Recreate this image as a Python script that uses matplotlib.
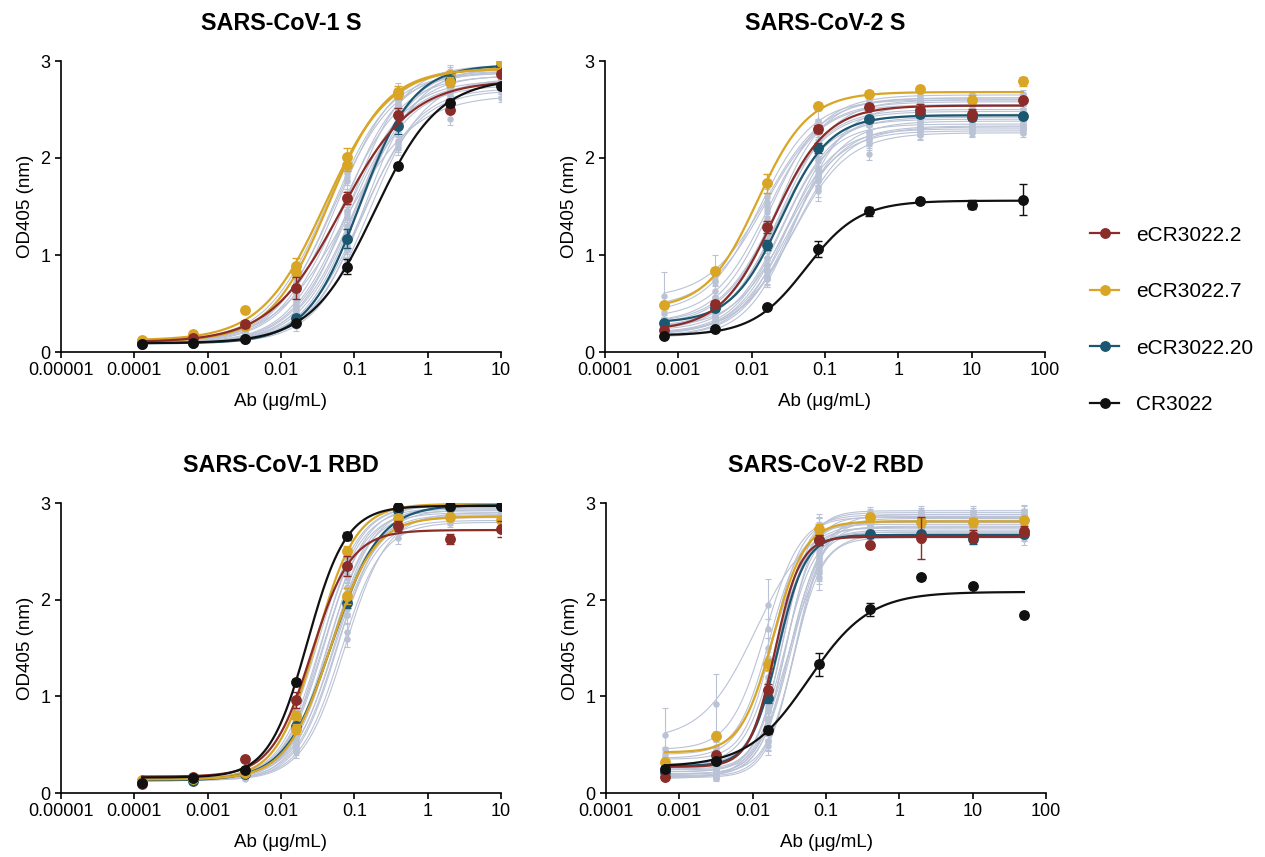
import numpy as np
import matplotlib
matplotlib.use("Agg")
import matplotlib.pyplot as plt
from matplotlib.lines import Line2D

plt.rcParams['font.family'] = ['Liberation Sans', 'DejaVu Sans']

# ---------------- data ----------------
conc_cov1 = [0.000128, 0.00064, 0.0032, 0.016, 0.08, 0.4, 2, 10]
conc_cov2 = [0.00064, 0.0032, 0.016, 0.08, 0.4, 2, 10, 50]

series_names = ["eCR3022.2", "eCR3022.7", "eCR3022.20", "CR3022"]
series_colors = ["#8b2c28", "#d9a524", "#1b5770", "#111111"]
gray_color = "#bac2d6"

titles = ["SARS-CoV-1 S", "SARS-CoV-2 S", "SARS-CoV-1 RBD", "SARS-CoV-2 RBD"]
xtick_vals_cov1 = [1e-5, 1e-4, 1e-3, 1e-2, 1e-1, 1, 10]
xtick_labels_cov1 = ["0.00001", "0.0001", "0.001", "0.01", "0.1", "1", "10"]
xtick_vals_cov2 = [1e-4, 1e-3, 1e-2, 1e-1, 1, 10, 100]
xtick_labels_cov2 = ["0.0001", "0.001", "0.01", "0.1", "1", "10", "100"]
ytick_vals = [0, 1, 2, 3]

# fitted 4PL parameters: (bottom, top, EC50, hill)
# ---- SARS-CoV-1 S ----
s1_red_pts = [0.08, 0.14, 0.29, 0.66, 1.59, 2.44, 2.50, 2.87]
s1_red_err = [0.01, 0.01, 0.03, 0.11, 0.06, 0.08, 0.03, 0.02]
s1_red_fit = (0.10, 2.80, 0.065, 0.9)
s1_yel_pts = [0.12, 0.19, 0.43, 0.89, 2.01, 2.68, 2.78, 2.99]
s1_yel_err = [0.01, 0.01, 0.02, 0.08, 0.09, 0.06, 0.05, 0.02]
s1_yel_fit = (0.12, 2.93, 0.040, 1.0)
s1_yel2_pts = [0.11, 0.15, 0.27, 0.82, 1.93, 2.66, 2.86, 2.92]
s1_yel2_err = [0.01, 0.01, 0.02, 0.05, 0.06, 0.05, 0.04, 0.02]
s1_yel2_fit = (0.11, 2.92, 0.044, 1.1)
s1_teal_pts = [0.09, 0.09, 0.13, 0.35, 1.17, 2.33, 2.80, 2.95]
s1_teal_err = [0.01, 0.01, 0.01, 0.03, 0.10, 0.08, 0.05, 0.03]
s1_teal_fit = (0.09, 2.96, 0.12, 1.2)
s1_blk_pts = [0.08, 0.09, 0.13, 0.30, 0.88, 1.92, 2.57, 2.74]
s1_blk_err = [0.01, 0.01, 0.01, 0.02, 0.08, 0.03, 0.04, 0.03]
s1_blk_fit = (0.09, 2.82, 0.19, 1.0)
s1_gray_fit = [
    (0.11, 2.92, 0.042, 1.05), (0.10, 2.88, 0.050, 1.1), (0.10, 2.95, 0.058, 1.1),
    (0.09, 2.85, 0.065, 1.05), (0.10, 2.90, 0.072, 1.15), (0.09, 2.80, 0.080, 1.1),
    (0.10, 2.96, 0.088, 1.2), (0.09, 2.75, 0.095, 1.1), (0.10, 2.90, 0.105, 1.15),
    (0.09, 2.85, 0.115, 1.2), (0.10, 2.70, 0.125, 1.1), (0.09, 2.65, 0.075, 0.9),
    (0.10, 2.93, 0.140, 1.2), (0.09, 2.82, 0.160, 1.15), (0.10, 2.88, 0.052, 1.05),
    (0.09, 2.78, 0.085, 1.1), (0.10, 2.92, 0.110, 1.2), (0.09, 2.72, 0.130, 1.15)]
s1_gray_pts = [
    [0.11, 0.15, 0.28, 0.84, 1.95, 2.70, 2.85, 2.93],
    [0.10, 0.12, 0.23, 0.70, 1.85, 2.60, 2.84, 2.88],
    [0.10, 0.12, 0.21, 0.66, 1.76, 2.63, 2.90, 2.95],
    [0.09, 0.11, 0.20, 0.61, 1.60, 2.50, 2.76, 2.85],
    [0.10, 0.11, 0.18, 0.52, 1.58, 2.55, 2.83, 2.90],
    [0.09, 0.10, 0.17, 0.48, 1.45, 2.40, 2.70, 2.80],
    [0.10, 0.11, 0.15, 0.43, 1.45, 2.55, 2.88, 2.95],
    [0.09, 0.10, 0.15, 0.42, 1.30, 2.30, 2.64, 2.73],
    [0.10, 0.11, 0.15, 0.39, 1.28, 2.40, 2.80, 2.89],
    [0.09, 0.10, 0.13, 0.33, 1.17, 2.34, 2.75, 2.84],
    [0.10, 0.11, 0.15, 0.34, 1.09, 2.13, 2.56, 2.68],
    [0.10, 0.12, 0.23, 0.60, 1.42, 2.18, 2.40, 2.62],
    [0.10, 0.10, 0.13, 0.30, 1.06, 2.30, 2.82, 2.91],
    [0.09, 0.10, 0.12, 0.27, 0.95, 2.10, 2.66, 2.79],
    [0.10, 0.13, 0.24, 0.72, 1.80, 2.58, 2.82, 2.87],
    [0.09, 0.10, 0.16, 0.46, 1.39, 2.37, 2.70, 2.77],
    [0.10, 0.11, 0.14, 0.35, 1.24, 2.43, 2.84, 2.91],
    [0.09, 0.10, 0.13, 0.31, 1.05, 2.15, 2.61, 2.70]]
s1_gray_err = [0.01, 0.01, 0.02, 0.05, 0.08, 0.07, 0.06, 0.04]
s1_gray_err_first = [0.01, 0.01, 0.02, 0.05, 0.08, 0.07, 0.06, 0.04]

# ---- SARS-CoV-2 S ----
s2_red_pts = [0.23, 0.50, 1.29, 2.30, 2.53, 2.50, 2.45, 2.60]
s2_red_err = [0.02, 0.03, 0.06, 0.04, 0.03, 0.06, 0.06, 0.02]
s2_red_fit = (0.22, 2.54, 0.020, 1.2)
s2_yel_pts = [0.48, 0.83, 1.74, 2.54, 2.66, 2.71, 2.60, 2.79]
s2_yel_err = [0.02, 0.03, 0.10, 0.03, 0.03, 0.03, 0.05, 0.05]
s2_yel_fit = (0.44, 2.68, 0.012, 1.25)
s2_teal_pts = [0.30, 0.45, 1.10, 2.10, 2.40, 2.45, 2.42, 2.43]
s2_teal_err = [0.02, 0.03, 0.05, 0.05, 0.03, 0.03, 0.03, 0.03]
s2_teal_fit = (0.30, 2.44, 0.025, 1.3)
s2_blk_pts = [0.17, 0.24, 0.46, 1.06, 1.45, 1.56, 1.52, 1.57]
s2_blk_err = [0.01, 0.01, 0.01, 0.08, 0.05, 0.02, 0.05, 0.16]
s2_blk_fit = (0.17, 1.56, 0.055, 1.2)
s2_gray_fit = [
    (0.55, 2.62, 0.016, 1.1), (0.40, 2.60, 0.013, 1.2), (0.35, 2.55, 0.016, 1.2),
    (0.30, 2.65, 0.018, 1.2), (0.28, 2.48, 0.020, 1.2), (0.25, 2.40, 0.022, 1.25),
    (0.22, 2.60, 0.024, 1.2), (0.20, 2.35, 0.026, 1.3), (0.18, 2.30, 0.028, 1.25),
    (0.25, 2.28, 0.030, 1.2), (0.17, 2.45, 0.032, 1.3), (0.16, 2.38, 0.035, 1.25),
    (0.20, 2.32, 0.038, 1.2), (0.15, 2.55, 0.040, 1.3), (0.30, 2.50, 0.020, 1.2),
    (0.22, 2.42, 0.027, 1.25), (0.19, 2.33, 0.033, 1.2), (0.45, 2.58, 0.015, 1.1),
    (0.26, 2.62, 0.021, 1.3), (0.18, 2.26, 0.036, 1.15)]
s2_gray_pts = [
    [0.58, 0.72, 1.50, 2.32, 2.56, 2.60, 2.62, 2.63],
    [0.46, 0.74, 1.60, 2.38, 2.55, 2.60, 2.61, 2.62],
    [0.40, 0.63, 1.44, 2.26, 2.50, 2.55, 2.54, 2.56],
    [0.34, 0.57, 1.38, 2.30, 2.60, 2.64, 2.63, 2.66],
    [0.31, 0.50, 1.22, 2.12, 2.42, 2.46, 2.48, 2.47],
    [0.28, 0.44, 1.10, 2.00, 2.34, 2.38, 2.40, 2.39],
    [0.25, 0.42, 1.12, 2.15, 2.52, 2.58, 2.60, 2.61],
    [0.23, 0.36, 0.97, 1.90, 2.27, 2.33, 2.35, 2.34],
    [0.20, 0.33, 0.90, 1.82, 2.20, 2.28, 2.30, 2.29],
    [0.27, 0.38, 0.90, 1.80, 2.18, 2.25, 2.27, 2.30],
    [0.19, 0.30, 0.86, 1.88, 2.34, 2.42, 2.44, 2.45],
    [0.18, 0.28, 0.78, 1.78, 2.26, 2.36, 2.37, 2.38],
    [0.21, 0.30, 0.75, 1.70, 2.04, 2.28, 2.31, 2.32],
    [0.16, 0.26, 0.75, 1.82, 2.40, 2.52, 2.55, 2.56],
    [0.33, 0.52, 1.25, 2.15, 2.44, 2.49, 2.50, 2.50],
    [0.24, 0.36, 0.97, 1.97, 2.35, 2.41, 2.42, 2.42],
    [0.21, 0.31, 0.82, 1.76, 2.22, 2.31, 2.33, 2.32],
    [0.51, 0.78, 1.55, 2.29, 2.52, 2.57, 2.58, 2.58],
    [0.28, 0.45, 1.23, 2.27, 2.57, 2.61, 2.62, 2.62],
    [0.20, 0.30, 0.77, 1.66, 2.14, 2.24, 2.26, 2.26]]
s2_gray_err = [0.02, 0.06, 0.08, 0.10, 0.06, 0.05, 0.04, 0.04]
s2_gray_err_first = [0.24, 0.28, 0.10, 0.06, 0.05, 0.05, 0.04, 0.04]

# ---- SARS-CoV-1 RBD ----
r1_red_pts = [0.09, 0.17, 0.35, 0.96, 2.35, 2.76, 2.63, 2.73]
r1_red_err = [0.01, 0.01, 0.02, 0.08, 0.10, 0.05, 0.05, 0.08]
r1_red_fit = (0.17, 2.72, 0.026, 1.6)
r1_yel_pts = [0.13, 0.14, 0.21, 0.66, 2.04, 2.84, 2.86, 2.82]
r1_yel_err = [0.01, 0.01, 0.01, 0.05, 0.08, 0.04, 0.03, 0.03]
r1_yel_fit = (0.14, 2.86, 0.047, 1.45)
r1_yel2_pts = [0.12, 0.14, 0.22, 0.80, 2.50, 2.95, 2.98, 2.98]
r1_yel2_err = [0.01, 0.01, 0.01, 0.05, 0.06, 0.03, 0.02, 0.02]
r1_yel2_fit = (0.14, 2.99, 0.030, 1.6)
r1_teal_pts = [0.11, 0.12, 0.20, 0.69, 1.97, 2.93, 2.96, 2.97]
r1_teal_err = [0.01, 0.01, 0.01, 0.03, 0.06, 0.03, 0.02, 0.02]
r1_teal_fit = (0.13, 2.98, 0.050, 1.35)
r1_blk_pts = [0.10, 0.16, 0.24, 1.15, 2.66, 2.96, 2.97, 2.97]
r1_blk_err = [0.01, 0.01, 0.02, 0.03, 0.04, 0.03, 0.02, 0.02]
r1_blk_fit = (0.16, 2.97, 0.023, 1.65)
r1_gray_fit = [
    (0.15, 2.98, 0.032, 1.55), (0.14, 2.95, 0.035, 1.55), (0.15, 2.92, 0.038, 1.55),
    (0.14, 2.98, 0.040, 1.55), (0.13, 2.90, 0.043, 1.55), (0.15, 2.85, 0.046, 1.55),
    (0.14, 2.96, 0.049, 1.55), (0.13, 2.88, 0.052, 1.55), (0.14, 2.82, 0.056, 1.55),
    (0.13, 2.93, 0.060, 1.55), (0.14, 2.80, 0.066, 1.55), (0.13, 2.90, 0.075, 1.5),
    (0.14, 2.94, 0.045, 1.6), (0.15, 2.87, 0.054, 1.5), (0.14, 2.97, 0.036, 1.65)]
r1_gray_pts = [
    [0.15, 0.16, 0.23, 0.86, 2.42, 2.93, 2.97, 2.98],
    [0.14, 0.15, 0.21, 0.78, 2.33, 2.89, 2.94, 2.95],
    [0.15, 0.16, 0.21, 0.70, 2.25, 2.85, 2.91, 2.92],
    [0.14, 0.15, 0.20, 0.68, 2.26, 2.90, 2.97, 2.98],
    [0.13, 0.13, 0.18, 0.62, 2.12, 2.82, 2.89, 2.90],
    [0.15, 0.15, 0.19, 0.58, 2.04, 2.75, 2.84, 2.85],
    [0.14, 0.14, 0.18, 0.56, 2.05, 2.85, 2.95, 2.96],
    [0.13, 0.13, 0.17, 0.52, 1.94, 2.77, 2.87, 2.88],
    [0.14, 0.14, 0.17, 0.49, 1.84, 2.70, 2.81, 2.82],
    [0.13, 0.13, 0.16, 0.47, 1.84, 2.78, 2.92, 2.93],
    [0.14, 0.14, 0.16, 0.42, 1.67, 2.64, 2.79, 2.80],
    [0.13, 0.13, 0.15, 0.45, 1.59, 2.70, 2.86, 2.90],
    [0.14, 0.14, 0.18, 0.59, 2.13, 2.86, 2.93, 2.94],
    [0.15, 0.15, 0.19, 0.53, 1.90, 2.74, 2.86, 2.87],
    [0.14, 0.14, 0.19, 0.73, 2.37, 2.92, 2.96, 2.97]]
r1_gray_err = [0.01, 0.01, 0.02, 0.06, 0.08, 0.06, 0.04, 0.03]
r1_gray_err_first = [0.01, 0.01, 0.02, 0.06, 0.08, 0.06, 0.04, 0.03]

# ---- SARS-CoV-2 RBD ----
r2_red_pts = [0.17, 0.39, 1.07, 2.62, 2.57, 2.64, 2.66, 2.71]
r2_red_err = [0.02, 0.02, 0.06, 0.05, 0.02, 0.22, 0.06, 0.05]
r2_red_fit = (0.27, 2.65, 0.020, 2.5)
r2_yel_pts = [0.32, 0.59, 1.33, 2.73, 2.86, 2.80, 2.80, 2.82]
r2_yel_err = [0.02, 0.02, 0.06, 0.05, 0.03, 0.05, 0.05, 0.03]
r2_yel_fit = (0.42, 2.81, 0.019, 2.0)
r2_teal_pts = [0.22, 0.33, 0.98, 2.62, 2.68, 2.68, 2.63, 2.68]
r2_teal_err = [0.02, 0.02, 0.05, 0.05, 0.03, 0.03, 0.05, 0.03]
r2_teal_fit = (0.28, 2.67, 0.022, 2.3)
r2_blk_pts = [0.25, 0.33, 0.65, 1.33, 1.90, 2.23, 2.14, 1.84]
r2_blk_err = [0.02, 0.02, 0.04, 0.12, 0.07, 0.03, 0.02, 0.03]
r2_blk_fit = (0.27, 2.08, 0.058, 1.05)
r2_gray_fit = [
    (0.55, 2.82, 0.011, 1.2), (0.45, 2.88, 0.015, 1.8), (0.40, 2.78, 0.017, 2.0),
    (0.35, 2.85, 0.019, 2.2), (0.30, 2.75, 0.021, 2.0), (0.28, 2.90, 0.023, 2.2),
    (0.25, 2.80, 0.025, 2.4), (0.22, 2.72, 0.027, 2.1), (0.20, 2.86, 0.029, 2.3),
    (0.18, 2.70, 0.031, 2.2), (0.17, 2.82, 0.034, 2.0), (0.16, 2.76, 0.037, 2.3),
    (0.20, 2.88, 0.040, 2.1), (0.15, 2.68, 0.030, 1.8), (0.30, 2.80, 0.024, 2.2),
    (0.24, 2.74, 0.028, 2.4), (0.19, 2.84, 0.033, 2.0), (0.36, 2.70, 0.018, 1.9),
    (0.22, 2.92, 0.026, 2.3), (0.17, 2.64, 0.036, 2.2)]
r2_gray_pts = [
    [0.60, 0.92, 1.95, 2.62, 2.78, 2.81, 2.82, 2.82],
    [0.46, 0.59, 1.70, 2.77, 2.87, 2.88, 2.87, 2.88],
    [0.40, 0.48, 1.50, 2.68, 2.77, 2.78, 2.77, 2.79],
    [0.35, 0.40, 1.36, 2.74, 2.84, 2.85, 2.86, 2.85],
    [0.30, 0.36, 1.20, 2.58, 2.74, 2.75, 2.74, 2.76],
    [0.28, 0.31, 1.08, 2.73, 2.89, 2.90, 2.89, 2.91],
    [0.25, 0.27, 0.90, 2.64, 2.79, 2.80, 2.80, 2.81],
    [0.22, 0.25, 0.85, 2.48, 2.71, 2.72, 2.71, 2.72],
    [0.20, 0.22, 0.74, 2.62, 2.85, 2.86, 2.85, 2.87],
    [0.18, 0.20, 0.66, 2.42, 2.69, 2.70, 2.69, 2.70],
    [0.17, 0.19, 0.65, 2.40, 2.80, 2.82, 2.81, 2.82],
    [0.16, 0.17, 0.49, 2.22, 2.75, 2.76, 2.75, 2.76],
    [0.20, 0.21, 0.54, 2.36, 2.86, 2.88, 2.87, 2.88],
    [0.15, 0.20, 0.77, 2.31, 2.65, 2.67, 2.68, 2.67],
    [0.30, 0.33, 1.03, 2.63, 2.79, 2.80, 2.80, 2.80],
    [0.24, 0.25, 0.76, 2.55, 2.73, 2.74, 2.74, 2.75],
    [0.19, 0.21, 0.69, 2.45, 2.82, 2.84, 2.83, 2.84],
    [0.36, 0.44, 1.40, 2.57, 2.69, 2.70, 2.70, 2.71],
    [0.22, 0.24, 0.88, 2.73, 2.91, 2.92, 2.91, 2.92],
    [0.17, 0.18, 0.53, 2.28, 2.63, 2.64, 2.64, 2.63]]
r2_gray_err = [0.02, 0.05, 0.10, 0.12, 0.05, 0.05, 0.06, 0.06]
r2_gray_err_first = [0.28, 0.31, 0.26, 0.05, 0.05, 0.05, 0.05, 0.05]


def four_pl(x, bottom, top, ec50, hill):
    return bottom + (top - bottom) / (1.0 + (ec50 / x) ** hill)


panels = [
    dict(title=titles[0], conc=conc_cov1, xt=xtick_vals_cov1, xl=xtick_labels_cov1,
         xlim=(1e-5, 10),
         gray_fit=s1_gray_fit, gray_pts=s1_gray_pts, gray_err=s1_gray_err, gray_err_first=s1_gray_err_first,
         extra=[(s1_yel2_pts, s1_yel2_err, s1_yel2_fit, 1)],
         main=[(s1_teal_pts, s1_teal_err, s1_teal_fit, 2), (s1_yel_pts, s1_yel_err, s1_yel_fit, 1),
               (s1_red_pts, s1_red_err, s1_red_fit, 0), (s1_blk_pts, s1_blk_err, s1_blk_fit, 3)]),
    dict(title=titles[1], conc=conc_cov2, xt=xtick_vals_cov2, xl=xtick_labels_cov2,
         xlim=(1e-4, 100),
         gray_fit=s2_gray_fit, gray_pts=s2_gray_pts, gray_err=s2_gray_err, gray_err_first=s2_gray_err_first,
         extra=[],
         main=[(s2_teal_pts, s2_teal_err, s2_teal_fit, 2), (s2_yel_pts, s2_yel_err, s2_yel_fit, 1),
               (s2_red_pts, s2_red_err, s2_red_fit, 0), (s2_blk_pts, s2_blk_err, s2_blk_fit, 3)]),
    dict(title=titles[2], conc=conc_cov1, xt=xtick_vals_cov1, xl=xtick_labels_cov1,
         xlim=(1e-5, 10),
         gray_fit=r1_gray_fit, gray_pts=r1_gray_pts, gray_err=r1_gray_err, gray_err_first=r1_gray_err_first,
         extra=[(r1_yel2_pts, r1_yel2_err, r1_yel2_fit, 1)],
         main=[(r1_teal_pts, r1_teal_err, r1_teal_fit, 2), (r1_yel_pts, r1_yel_err, r1_yel_fit, 1),
               (r1_red_pts, r1_red_err, r1_red_fit, 0), (r1_blk_pts, r1_blk_err, r1_blk_fit, 3)]),
    dict(title=titles[3], conc=conc_cov2, xt=xtick_vals_cov2, xl=xtick_labels_cov2,
         xlim=(1e-4, 100),
         gray_fit=r2_gray_fit, gray_pts=r2_gray_pts, gray_err=r2_gray_err, gray_err_first=r2_gray_err_first,
         extra=[],
         main=[(r2_teal_pts, r2_teal_err, r2_teal_fit, 2), (r2_yel_pts, r2_yel_err, r2_yel_fit, 1),
               (r2_red_pts, r2_red_err, r2_red_fit, 0), (r2_blk_pts, r2_blk_err, r2_blk_fit, 3)]),
]

# ---------------- figure ----------------
fig = plt.figure(figsize=(12.65, 8.57), dpi=100)
W, H = 1265.0, 857.0
boxes = [
    (61, 61, 501, 352),
    (605, 61, 1045, 352),
    (61, 503, 501, 793),
    (606, 503, 1046, 793),
]

for box, p in zip(boxes, panels):
    l, t, r, b = box
    ax = fig.add_axes([l / W, 1 - b / H, (r - l) / W, (b - t) / H])
    conc = np.array(p["conc"], dtype=float)
    xs = np.logspace(np.log10(conc[0]), np.log10(conc[-1]), 400)

    # gray background antibodies
    for i, (fit, pts) in enumerate(zip(p["gray_fit"], p["gray_pts"])):
        ax.plot(xs, four_pl(xs, *fit), color=gray_color, lw=0.8, zorder=1)
        err = p["gray_err_first"] if i == 0 else p["gray_err"]
        ax.errorbar(conc, pts, yerr=err, fmt='o', ms=3.6, color=gray_color,
                    ecolor=gray_color, elinewidth=0.8, capsize=2.5, capthick=0.8, zorder=2)

    z = 3
    for pts, err, fit, ci in p["extra"] + p["main"]:
        col = series_colors[ci]
        ax.plot(xs, four_pl(xs, *fit), color=col, lw=1.6, zorder=z)
        ax.errorbar(conc, pts, yerr=err, fmt='o', ms=6.8, color=col, ecolor=col,
                    elinewidth=1.0, capsize=3.2, capthick=1.0, zorder=z + 0.5)
        z += 1

    ax.set_xscale('log')
    ax.set_xlim(*p["xlim"])
    ax.set_ylim(0, 3)
    ax.xaxis.set_major_locator(matplotlib.ticker.FixedLocator(p["xt"]))
    ax.xaxis.set_minor_locator(matplotlib.ticker.NullLocator())
    ax.set_xticklabels(p["xl"])
    ax.set_yticks(ytick_vals)
    ax.set_yticklabels([str(v) for v in ytick_vals])
    for s in ['top', 'right']:
        ax.spines[s].set_visible(False)
    for s in ['left', 'bottom']:
        ax.spines[s].set_linewidth(1.2)
    ax.tick_params(axis='both', which='major', direction='out', length=4.5, width=1.2,
                   labelsize=13, pad=3)
    ax.set_xlabel("Ab (μg/mL)", fontsize=13.5, labelpad=10)
    ax.set_ylabel("OD405 (nm)", fontsize=13.5, labelpad=5)
    ax.set_title(p["title"], fontsize=16.8, fontweight='bold', pad=22)

handles = [Line2D([0], [0], color=c, lw=1.6, marker='o', ms=6.8) for c in series_colors]
fig.legend(handles, series_names, loc='center left', bbox_to_anchor=(1090 / W, 1 - 320 / H),
           frameon=False, fontsize=15, labelspacing=1.8, handlelength=1.4,
           handletextpad=0.8, borderpad=0, borderaxespad=0)

fig.savefig("out.png", dpi=100)
